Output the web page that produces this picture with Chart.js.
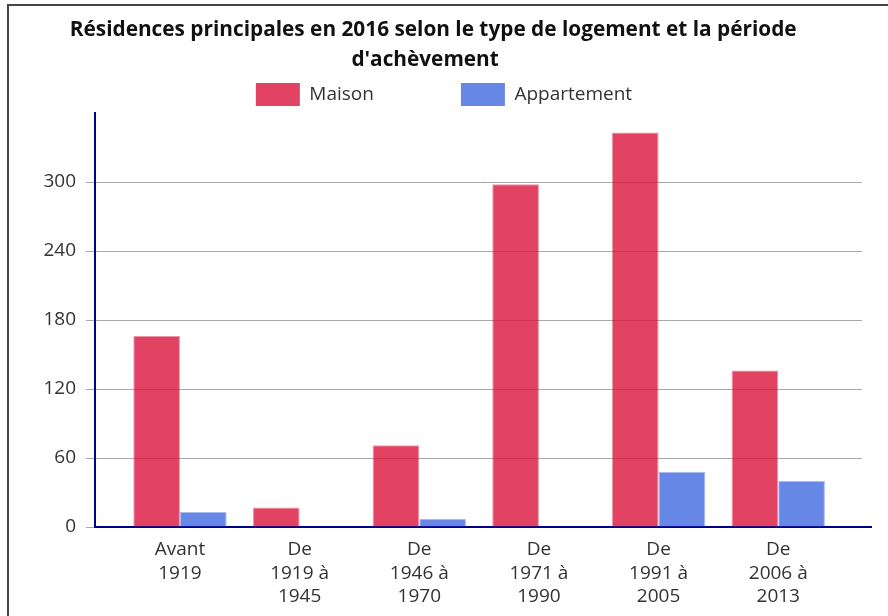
<!DOCTYPE html>
<html lang="fr">
<head>
<meta charset="utf-8">
<script src="https://cdn.jsdelivr.net/npm/chart.js@4.4.0/dist/chart.umd.min.js"></script>
<style>
  html, body { margin: 0; padding: 0; background: #fff; }
  #wrap { position: relative; width: 888px; height: 616px; overflow: hidden; }
  #frame { position: absolute; left: 7px; top: 4px; width: 920px; height: 700px; border: 2px solid #444; box-sizing: border-box; }
  #chart { position: absolute; left: 0; top: 0; }
</style>
</head>
<body>
<div id="wrap">
  <div id="frame"></div>
  <canvas id="chart" width="888" height="616"></canvas>
</div>
<script>
// données
const periodes = [
    ["Avant", "1919"],
    ["De", "1919 à", "1945"],
    ["De", "1946 à", "1970"],
    ["De", "1971 à", "1990"],
    ["De", "1991 à", "2005"],
    ["De", "2006 à", "2013"],
];
const maison = [166, 17, 71, 298, 343, 136];
const appartement = [13, 0, 7, 0, 48, 40];
const yTicks = [0, 60, 120, 180, 240, 300];
const titre = ["Résidences principales en 2016 selon le type de logement et la période", "d'achèvement"];

const NAVY = "#00008b";
const TXT = "#333";
const FONT = "'Open Sans', sans-serif";

// petit prolongement de l'axe des x à droite
const axisTail = {
    id: "axisTail",
    afterDraw(chart) {
        const { ctx, chartArea, scales } = chart;
        const y = scales.y.getPixelForValue(0);
        ctx.save();
        ctx.strokeStyle = NAVY;
        ctx.lineWidth = 2;
        ctx.beginPath();
        ctx.moveTo(chartArea.right - 1, y);
        ctx.lineTo(chartArea.right + 10, y);
        ctx.stroke();
        ctx.restore();
    },
};

new Chart(document.getElementById("chart"), {
    type: "bar",
    data: {
        labels: periodes,
        datasets: [
            {
                label: "Maison",
                data: maison,
                backgroundColor: "rgba(220,20,60,0.8)",
                borderColor: "rgba(220,20,60,0.45)",
                borderWidth: 1,
            },
            {
                label: "Appartement",
                data: appartement,
                backgroundColor: "rgba(65,105,225,0.8)",
                borderColor: "rgba(65,105,225,0.45)",
                borderWidth: 1,
            },
        ],
    },
    options: {
        responsive: false,
        animation: false,
        categoryPercentage: 0.78,
        barPercentage: 1,
        layout: { padding: 0 },
        plugins: {
            title: {
                display: true,
                // espaces finales : le titre est un peu décalé vers la gauche
                text: [titre[0] + "    ", titre[1] + "       "],
                color: "#111",
                font: { family: FONT, size: 20.8, weight: "bold", lineHeight: 30 / 20.8 },
                padding: { top: 15, bottom: 0 },
            },
            legend: {
                position: "top",
                maxHeight: 38,
                labels: {
                    boxWidth: 44,
                    boxHeight: 23,
                    padding: 8,
                    color: TXT,
                    font: { family: FONT, size: 19 },
                    generateLabels(chart) {
                        const items = Chart.defaults.plugins.legend.labels.generateLabels(chart);
                        // espace entre les deux entrées de la légende
                        items[0].text = items[0].text + " ".repeat(16);
                        items.forEach(it => { it.lineWidth = 0; });
                        return items;
                    },
                },
            },
            tooltip: { enabled: false },
        },
        scales: {
            x: {
                grid: { display: false },
                border: { display: true, color: NAVY, width: 2 },
                ticks: {
                    color: TXT,
                    padding: 3,
                    maxRotation: 0,
                    autoSkip: false,
                    font: { family: FONT, size: 19, lineHeight: 23.5 / 19 },
                },
                afterBuildTicks(scale) {
                    // marges à gauche et à droite des catégories
                    scale._startValue = -0.5 - 0.21;
                    scale._valueRange = periodes.length + 0.41;
                },
                afterFit(scale) { scale.height = 89; },
            },
            y: {
                min: 0,
                max: 360,
                grid: { color: "#aaa", lineWidth: 1, tickLength: 9 },
                border: { display: true, color: NAVY, width: 2 },
                ticks: {
                    color: TXT,
                    padding: 10,
                    font: { family: FONT, size: 19 },
                },
                afterBuildTicks(scale) {
                    scale.ticks = yTicks.map(v => ({ value: v }));
                },
                afterFit(scale) { scale.width = 95; },
            },
            y2: {
                position: "right",
                display: true,
                grid: { display: false },
                border: { display: false },
                ticks: { display: false },
                afterFit(scale) { scale.width = 26; },
            },
        },
    },
    plugins: [axisTail],
});
</script>
</body>
</html>
